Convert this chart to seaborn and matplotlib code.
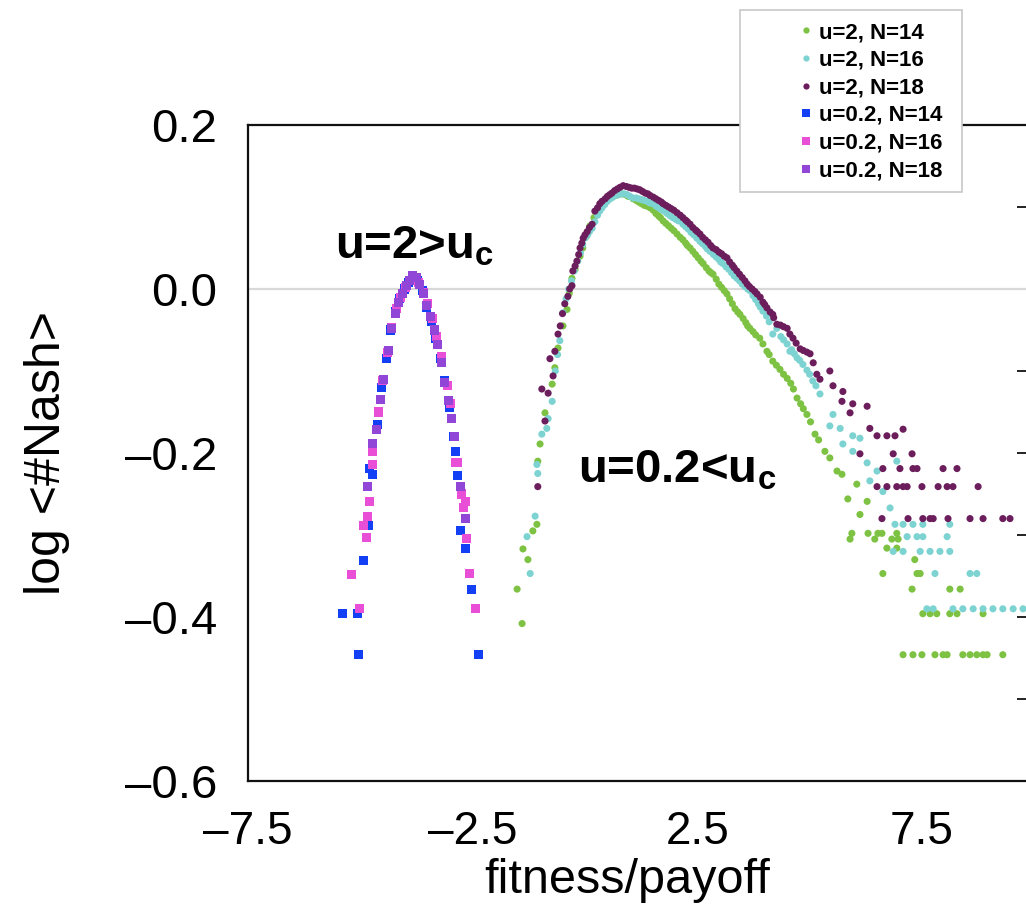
import matplotlib
matplotlib.use("Agg")
import matplotlib.pyplot as plt
from matplotlib.lines import Line2D
from matplotlib.patches import Rectangle
from matplotlib.ticker import FixedLocator, MultipleLocator
import pandas as pd
import seaborn as sns

# ---------------- data ----------------
series_labels = ["u=2, N=14", "u=2, N=16", "u=2, N=18",
                 "u=0.2, N=14", "u=0.2, N=16", "u=0.2, N=18"]
series_colors = ["#7dc242", "#7dd3d1", "#6b1d5c", "#1440f5", "#e84fd6", "#9146d8"]

# u=2 curves (circles, right hump)
g14_x = [-1.40, -1.51, -1.27, -1.38, -1.16, -1.07, -1.05, -1.00, -0.89, -0.73, -0.67, -0.60,
         -0.49, -0.40, -0.35, -0.29, -0.22, -0.11, -0.05, 0.03, 0.11, 0.20, 0.26, 0.33, 0.40,
         0.46, 0.53, 0.60, 0.68, 0.74, 0.82, 0.90, 0.96, 1.07, 1.14, 1.20, 1.26, 1.32, 1.38,
         1.45, 1.52, 1.58, 1.64, 1.68, 1.74, 1.80, 1.86, 1.92, 1.98, 2.05, 2.12, 2.18, 2.24,
         2.28, 2.34, 2.40, 2.46, 2.52, 2.58, 2.63, 2.70, 2.76, 2.80, 2.85, 2.92, 2.98, 3.04,
         3.10, 3.16, 3.22, 3.28, 3.34, 3.40, 3.45, 3.52, 3.58, 3.62, 3.67, 3.74, 3.80, 3.89,
         3.96, 4.05, 4.10, 4.18, 4.26, 4.34, 4.42, 4.50, 4.58, 4.64, 4.72, 4.80, 4.86, 4.94,
         5.02, 5.12, 5.20, 5.34, 5.45, 5.61, 5.72, 5.85, 6.05, 6.12, 6.28,
         5.94, 6.30, 6.52, 6.61, 6.94, 5.90, 6.45, 6.83, 6.97, 6.72, 6.94, 7.34, 6.63, 7.39,
         7.46, 7.28, 8.12, 8.35, 7.52, 7.68, 7.83, 8.12, 8.28, 8.86,
         7.08, 7.30, 7.50, 7.79, 7.97, 8.06, 8.41, 8.57, 8.72, 8.86, 8.95, 9.30]
g14_y = [-0.408, -0.366, -0.330, -0.317, -0.295, -0.287, -0.210, -0.189, -0.151, -0.116, -0.096,
         -0.072, -0.045, -0.025, -0.005, 0.013, 0.024, 0.040, 0.050, 0.064, 0.077, 0.087, 0.094,
         0.099, 0.104, 0.107, 0.110, 0.112, 0.114, 0.115, 0.116, 0.115, 0.113, 0.110, 0.108,
         0.106, 0.104, 0.102, 0.101, 0.099, 0.096, 0.092, 0.089, 0.087, 0.083, 0.080, 0.077,
         0.074, 0.071, 0.067, 0.063, 0.060, 0.056, 0.053, 0.050, 0.046, 0.042, 0.038, 0.034,
         0.031, 0.026, 0.022, 0.020, 0.018, 0.012, 0.006, 0.002, -0.002, -0.006, -0.012, -0.018,
         -0.024, -0.028, -0.031, -0.036, -0.041, -0.045, -0.048, -0.052, -0.056, -0.060, -0.067,
         -0.076, -0.080, -0.088, -0.093, -0.098, -0.104, -0.109, -0.115, -0.122, -0.133, -0.140,
         -0.146, -0.153, -0.162, -0.177, -0.184, -0.198, -0.206, -0.222, -0.226, -0.256, -0.238,
         -0.275, -0.259,
         -0.298, -0.298, -0.298, -0.298, -0.298, -0.305, -0.305, -0.305, -0.305, -0.316, -0.316,
         -0.330, -0.347, -0.347, -0.347, -0.366, -0.366, -0.366, -0.396, -0.396, -0.396, -0.396,
         -0.396, -0.396,
         -0.446, -0.446, -0.446, -0.446, -0.446, -0.446, -0.446, -0.446, -0.446, -0.446, -0.446,
         -0.446]

c16_x = [-1.22, -1.29, -1.11, -1.05, -1.07, -0.96, -0.85, -0.82, -0.73, -0.66, -0.61, -0.56,
         -0.49, -0.42, -0.36, -0.30, -0.24, -0.16, -0.10, -0.05, 0.00, 0.06, 0.10, 0.16, 0.22,
         0.28, 0.33, 0.38, 0.44, 0.50, 0.56, 0.62, 0.68, 0.74, 0.82, 0.88, 0.94, 1.00, 1.07,
         1.14, 1.20, 1.26, 1.32, 1.38, 1.44, 1.51, 1.58, 1.64, 1.70, 1.76, 1.83, 1.90, 1.96,
         2.02, 2.08, 2.18, 2.24, 2.30, 2.36, 2.42, 2.49, 2.56, 2.62, 2.68, 2.72, 2.78, 2.86,
         2.92, 2.98, 3.02, 3.07, 3.14, 3.20, 3.26, 3.32, 3.38, 3.44, 3.50, 3.56, 3.62, 3.67,
         3.74, 3.80, 3.86, 3.90, 3.96, 4.04, 4.10, 4.18, 4.27, 4.36, 4.42, 4.50, 4.56, 4.60,
         4.66, 4.72, 4.78, 4.85, 4.94, 5.00, 5.07, 5.14, 5.23, 5.52, 5.45, 5.68, 5.96,
         6.12, 5.74, 5.96, 6.28, 6.50, 6.94, 6.34, 6.63, 6.79,
         6.90, 7.08, 7.30, 7.52, 8.12, 7.17, 7.39, 7.52, 8.06, 6.86, 7.08, 7.46, 7.68, 7.90,
         8.12, 7.79, 8.57, 8.72,
         7.61, 7.75, 8.19, 8.41, 8.64, 8.86, 9.08, 9.30, 9.53, 9.75]
c16_y = [-0.347, -0.302, -0.277, -0.225, -0.214, -0.177, -0.170, -0.158, -0.137, -0.100, -0.080,
         -0.063, -0.029, -0.012, 0.000, 0.010, 0.022, 0.034, 0.044, 0.054, 0.062, 0.066, 0.070,
         0.074, 0.082, 0.090, 0.095, 0.099, 0.103, 0.107, 0.110, 0.112, 0.114, 0.115, 0.116,
         0.116, 0.115, 0.113, 0.111, 0.111, 0.110, 0.109, 0.108, 0.107, 0.105, 0.104, 0.101,
         0.099, 0.097, 0.095, 0.092, 0.089, 0.087, 0.085, 0.083, 0.079, 0.076, 0.073, 0.069,
         0.066, 0.062, 0.058, 0.055, 0.052, 0.049, 0.046, 0.042, 0.039, 0.036, 0.033, 0.031,
         0.027, 0.024, 0.020, 0.016, 0.013, 0.010, 0.006, 0.003, 0.000, -0.002, -0.008, -0.013,
         -0.018, -0.022, -0.027, -0.033, -0.040, -0.055, -0.048, -0.058, -0.062, -0.067, -0.076,
         -0.074, -0.079, -0.084, -0.087, -0.092, -0.099, -0.104, -0.112, -0.118, -0.128, -0.153,
         -0.167, -0.170, -0.179,
         -0.182, -0.189, -0.198, -0.212, -0.222, -0.210, -0.234, -0.247, -0.267,
         -0.287, -0.287, -0.287, -0.287, -0.287, -0.302, -0.302, -0.302, -0.302, -0.320, -0.320,
         -0.320, -0.320, -0.320, -0.320, -0.347, -0.347, -0.347,
         -0.390, -0.390, -0.390, -0.390, -0.390, -0.390, -0.390, -0.390, -0.390, -0.390]

p18_x = [-1.05, -0.89, -0.96, -0.82, -0.71, -0.78, -0.67, -0.60, -0.55, -0.50, -0.45, -0.38,
         -0.34, -0.29, -0.27, -0.22, -0.18, -0.14, -0.11, -0.07, -0.04, 0.00, 0.05, 0.10, 0.16,
         0.22, 0.28, 0.33, 0.38, 0.45, 0.50, 0.55, 0.60, 0.66, 0.72, 0.78, 0.85, 0.92, 0.98,
         1.04, 1.10, 1.16, 1.22, 1.28, 1.34, 1.40, 1.45, 1.52, 1.58, 1.64, 1.70, 1.74, 1.80,
         1.86, 1.92, 1.98, 2.05, 2.12, 2.18, 2.24, 2.28, 2.34, 2.40, 2.46, 2.50, 2.56, 2.62,
         2.68, 2.74, 2.80, 2.85, 2.92, 2.98, 3.04, 3.10, 3.16, 3.22, 3.28, 3.32, 3.38, 3.44,
         3.50, 3.56, 3.61, 3.66, 3.72, 3.78, 3.83, 3.90, 3.96, 4.00, 4.05, 4.12, 4.18, 4.20,
         4.27, 4.35, 4.42, 4.50, 4.56, 4.63, 4.70, 4.79, 4.86, 4.94, 5.01, 5.08, 5.16, 5.23,
         5.45, 5.52, 5.74, 5.72, 5.96, 6.28, 5.90, 6.34, 7.08,
         6.50, 6.72, 6.90, 6.12, 6.86, 7.28,
         6.63, 7.01, 7.30, 7.39, 7.97, 8.28,
         6.50, 6.72, 6.94, 7.08, 7.17, 7.50, 7.86, 8.06, 8.19, 8.75,
         6.61, 7.19, 7.52, 7.68, 7.75, 8.08, 8.57, 8.86, 9.30, 9.46]
p18_y = [-0.241, -0.161, -0.122, -0.127, -0.106, -0.085, -0.076, -0.055, -0.045, -0.030, -0.018,
         -0.009, 0.000, 0.004, 0.022, 0.028, 0.034, 0.042, 0.050, 0.056, 0.062, 0.066, 0.070,
         0.075, 0.079, 0.095, 0.099, 0.104, 0.107, 0.110, 0.113, 0.115, 0.117, 0.120, 0.122,
         0.124, 0.126, 0.125, 0.124, 0.123, 0.123, 0.122, 0.121, 0.119, 0.117, 0.116, 0.114,
         0.112, 0.110, 0.108, 0.106, 0.104, 0.102, 0.100, 0.098, 0.096, 0.093, 0.090, 0.087,
         0.084, 0.082, 0.079, 0.075, 0.072, 0.070, 0.067, 0.063, 0.060, 0.057, 0.053, 0.050,
         0.048, 0.045, 0.043, 0.040, 0.038, 0.033, 0.029, 0.026, 0.022, 0.018, 0.014, 0.010,
         0.006, 0.003, 0.000, -0.003, -0.006, -0.010, -0.016, -0.019, -0.023, -0.028, -0.031,
         -0.035, -0.043, -0.044, -0.046, -0.048, -0.055, -0.060, -0.066, -0.073, -0.075, -0.077,
         -0.079, -0.090, -0.104, -0.110,
         -0.100, -0.118, -0.125, -0.137, -0.140, -0.143, -0.151, -0.170, -0.171,
         -0.179, -0.179, -0.179, -0.201, -0.201, -0.201,
         -0.219, -0.219, -0.219, -0.219, -0.219, -0.219,
         -0.241, -0.241, -0.241, -0.241, -0.241, -0.241, -0.241, -0.241, -0.241, -0.241,
         -0.280, -0.280, -0.280, -0.280, -0.280, -0.280, -0.280, -0.280, -0.280, -0.280]

# u=0.2 curves (squares, left hump)
b14_x = [-5.39, -5.07, -5.05, -4.94, -4.81, -4.72, -4.79, -4.62, -4.52, -4.42, -4.32, -4.22,
         -4.12, -4.02, -3.92, -3.82, -3.72, -3.62, -3.52, -3.42, -3.32, -3.22, -3.12, -3.02,
         -2.92, -2.89, -2.83, -2.78, -2.67, -2.52, -2.38]
b14_y = [-0.396, -0.396, -0.446, -0.331, -0.288, -0.226, -0.219, -0.165, -0.120, -0.085, -0.050,
         -0.028, -0.012, 0.000, 0.008, 0.012, 0.010, -0.002, -0.022, -0.040, -0.060, -0.085,
         -0.112, -0.145, -0.180, -0.198, -0.227, -0.295, -0.317, -0.366, -0.446]

m16_x = [-5.19, -5.01, -4.87, -4.94, -4.83, -4.79, -4.74, -4.72, -4.60, -4.50, -4.40, -4.30,
         -4.20, -4.10, -4.00, -3.90, -3.80, -3.70, -3.60, -3.50, -3.40, -3.30, -3.20, -3.07,
         -3.00, -2.89, -2.83, -2.74, -2.67, -2.71, -2.63, -2.56, -2.43]
m16_y = [-0.348, -0.390, -0.303, -0.289, -0.277, -0.259, -0.214, -0.198, -0.150, -0.112, -0.078,
         -0.047, -0.024, -0.010, 0.002, 0.010, 0.014, 0.008, -0.004, -0.018, -0.036, -0.058,
         -0.082, -0.118, -0.140, -0.212, -0.212, -0.250, -0.259, -0.267, -0.304, -0.347, -0.390]

v18_x = [-4.83, -4.74, -4.63, -4.56, -4.48, -4.38, -4.30, -4.22, -4.14, -4.06, -3.98, -3.90,
         -3.83, -3.76, -3.68, -3.60, -3.52, -3.44, -3.36, -3.28, -3.20, -3.12, -3.04, -2.96,
         -2.90, -2.78, -2.67]
v18_y = [-0.241, -0.189, -0.171, -0.135, -0.110, -0.075, -0.048, -0.030, -0.016, -0.006, 0.004,
         0.010, 0.016, 0.014, 0.006, -0.006, -0.020, -0.034, -0.050, -0.068, -0.090, -0.114,
         -0.136, -0.158, -0.180, -0.241, -0.280]

xs = [g14_x, c16_x, p18_x, b14_x, m16_x, v18_x]
ys = [g14_y, c16_y, p18_y, b14_y, m16_y, v18_y]
markers = ["o", "o", "o", "s", "s", "s"]
sizes = [26, 26, 26, 42, 42, 42]

x_ticks_major = [-7.5, -2.5, 2.5, 7.5]
y_ticks_major = [-0.6, -0.4, -0.2, 0.0, 0.2]

# ---------------- style ----------------
sns.set_theme(style="white")
plt.rcParams["font.family"] = ["Liberation Sans", "DejaVu Sans"]
plt.rcParams["mathtext.fontset"] = "custom"
plt.rcParams["mathtext.rm"] = "Liberation Sans"
plt.rcParams["mathtext.bf"] = "Liberation Sans:bold"
for k in ["text.color", "axes.labelcolor", "xtick.color", "ytick.color"]:
    plt.rcParams[k] = "black"

W, H = 1026, 918
fig = plt.figure(figsize=(W / 100, H / 100), dpi=100)
ax_left, ax_bottom, ax_top = 248 / W, 1 - 781 / H, 1 - 125 / H
x_min, x_max = -7.5, 10.0
px_per_unit = 44.93
ax_w = (x_max - x_min) * px_per_unit / W
ax = fig.add_axes([ax_left, ax_bottom, ax_w, ax_top - ax_bottom])

ax.axhline(0.0, color="#d8d8d8", lw=1.6, zorder=1)

for lab, col, mk, sz, x, y in zip(series_labels, series_colors, markers, sizes, xs, ys):
    df = pd.DataFrame({"x": x, "y": y})
    sns.scatterplot(data=df, x="x", y="y", ax=ax, color=col, marker=mk, s=sz,
                    linewidth=0, edgecolor="none", zorder=3, legend=False)

ax.set_xlim(x_min, x_max)
ax.set_ylim(-0.6, 0.2)
ax.xaxis.set_major_locator(FixedLocator(x_ticks_major))
ax.xaxis.set_minor_locator(MultipleLocator(2.5))
ax.yaxis.set_major_locator(FixedLocator(y_ticks_major))
ax.yaxis.set_minor_locator(MultipleLocator(0.1))
ax.tick_params(axis="both", which="both", direction="in", top=False, right=True,
               color="#111111", width=1.3)
ax.tick_params(axis="x", which="major", length=11, labelsize=33, pad=21)
ax.tick_params(axis="x", which="minor", length=7)
ax.tick_params(axis="y", which="major", length=12, labelsize=34, pad=22)
ax.tick_params(axis="y", which="minor", length=12)
ax.set_xticklabels([f"{v:.1f}".replace("-", "\u2013") for v in x_ticks_major])
ax.set_yticklabels([f"{v:.1f}".replace("-", "\u2013") for v in y_ticks_major])
for sp in ax.spines.values():
    sp.set_color("#111111")
    sp.set_linewidth(1.6)

ax.set_xlabel("fitness/payoff", fontsize=35)
ax.xaxis.set_label_coords((627 - 248) / 786, -0.118)
ax.set_ylabel("log <#Nash>", fontsize=36)
ax.yaxis.set_label_coords((70 - 248) / 786, 0.5)

ax.text(-5.56, 0.037, r"u=2>u$_\mathbf{c}$", fontsize=34, fontweight="bold",
        ha="left", va="baseline", zorder=6)
ax.text(-0.15, -0.236, r"u=0.2<u$_\mathbf{c}$", fontsize=34, fontweight="bold",
        ha="left", va="baseline", zorder=6)

# legend box (partly above the axes, covering the top spine)
fig.patches.append(Rectangle((740 / W, 1 - 192 / H), 222 / W, 182 / H,
                             transform=fig.transFigure, facecolor="white",
                             edgecolor="#c8c8c8", lw=1.2, zorder=5))
handles = [Line2D([], [], linestyle="none", marker=mk, color=col,
                  markersize=(4.5 if mk == "o" else 6), markeredgewidth=0)
           for mk, col in zip(markers, series_colors)]
leg = fig.legend(handles, series_labels, loc="upper left",
                 bbox_to_anchor=(799 / W, 1 - 22 / H), frameon=False,
                 borderaxespad=0, borderpad=0, handlelength=0.6, handletextpad=0.3,
                 labelspacing=0.3, prop={"size": 16, "weight": "bold"})
leg.set_zorder(6)

fig.savefig("out.png", dpi=100)
